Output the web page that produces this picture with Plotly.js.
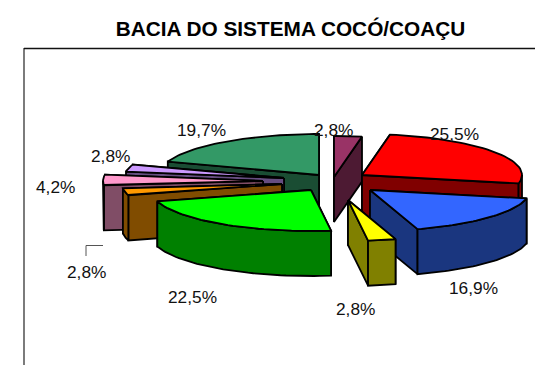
<!DOCTYPE html>
<html>
<head>
<meta charset="utf-8">
<script src="https://cdn.plot.ly/plotly-3.0.1.min.js"></script>
<style>html,body{margin:0;padding:0;background:#fff;overflow:hidden}#chart{width:535px;height:365px}</style>
</head>
<body>
<div id="chart"></div>
<script>
// Data, clockwise from 12 o'clock
var sliceNames = ['Bordô','Vermelho','Azul','Amarelo','Verde','Laranja','Rosa','Lilás','Verde-mar'];
var values = [2.8, 25.5, 16.9, 2.8, 22.5, 2.8, 4.2, 2.8, 19.7];
var topColors = ['#993366','#ff0000','#3366ff','#ffff00','#00ff00','#ff9900','#ff99cc','#cc99ff','#339966'];
var wallColors = ['#4d1a33','#800000','#1a367f','#808000','#008000','#804c00','#804d66','#664d80','#1a4d33'];
var drawOrder = [8,7,6,5,0,1,2,3,4];

// Pie geometry (pixels on the hidden axes)
var pie = {cx:322, cy:182, rx:160, ry:41, depth:45};
var explodeX = [12,40,48,26,-11,-40,-59,-38,-3];
var explodeY = [-5,-7,8,18,8,2,-1,-4,-7];
var labelX = [333,454,473,355,192,86,55,110,201];
var labelY = [130,134,288,309,297,272,187,156,130];

var total = values.reduce(function(a,b){return a+b;},0);
var traces = [];
function pt(tip, deg){
  var r = deg*Math.PI/180;
  return [tip[0]+pie.rx*Math.sin(r), tip[1]-pie.ry*Math.cos(r)];
}
function poly(points, fill, name){
  var xs = points.map(function(p){return p[0];});
  var ys = points.map(function(p){return p[1];});
  xs.push(xs[0]); ys.push(ys[0]);
  traces.push({type:'scatter', mode:'lines', x:xs, y:ys, fill:'toself', fillcolor:fill,
    line:{color:'#000', width:1.8, shape:'linear'}, hoverinfo:'text', text:name, showlegend:false});
}
var starts = [], acc = 0;
values.forEach(function(v){ starts.push(acc/total*360); acc += v; });

drawOrder.forEach(function(i){
  var a0 = starts[i], a1 = a0 + values[i]/total*360;
  var tip = [pie.cx+explodeX[i], pie.cy+explodeY[i]];
  var name = sliceNames[i];
  var d = pie.depth;
  function wall(a){
    var e = pt(tip,a);
    return {my:(tip[1]+e[1])/2, pts:[tip, e, [e[0],e[1]+d], [tip[0],tip[1]+d]]};
  }
  // radial walls, the farther one first
  [wall(a0),wall(a1)].sort(function(p,q){return p.my-q.my;}).forEach(function(w){
    poly(w.pts, wallColors[i], name);
  });
  // rim wall, only where it faces the viewer
  var lo = Math.max(a0,90), hi = Math.min(a1,270);
  if (hi > lo){
    var upper = [], lower = [];
    for (var k=0;k<=40;k++){
      var p = pt(tip, lo+(hi-lo)*k/40);
      upper.push(p); lower.unshift([p[0],p[1]+d]);
    }
    poly(upper.concat(lower), wallColors[i], name);
  }
  // top face
  var face = [tip];
  for (var j=0;j<=40;j++) face.push(pt(tip, a0+(a1-a0)*j/40));
  poly(face, topColors[i], name);
});

var annotations = values.map(function(v,i){
  return {x:labelX[i], y:labelY[i], xref:'x', yref:'y', showarrow:false,
    text:v.toFixed(1).replace('.',',')+'%', xanchor:'center', yanchor:'middle',
    font:{family:'Liberation Sans, Arial, sans-serif', size:17.3, color:'#111'}};
});

var layout = {
  width:535, height:365,
  margin:{l:0,r:0,t:0,b:0,pad:0},
  paper_bgcolor:'#fff', plot_bgcolor:'#fff',
  showlegend:false,
  title:{text:'<b>BACIA DO SISTEMA COCÓ/COAÇU</b>', x:290.5/535, xanchor:'center', y:1-29/365, yanchor:'middle',
    font:{family:'Liberation Sans, Arial, sans-serif', size:20.8, color:'#000'}},
  xaxis:{range:[0,535], visible:false, fixedrange:true},
  yaxis:{range:[365,0], visible:false, fixedrange:true},
  annotations:annotations,
  shapes:[
    {type:'line', xref:'x', yref:'y', x0:24, x1:24, y0:48, y1:365, line:{color:'#444', width:1.4}},
    {type:'line', xref:'x', yref:'y', x0:24, x1:535, y0:48.5, y1:48.5, line:{color:'#111', width:1.4}},
    {type:'path', xref:'x', yref:'y', path:'M86,256 L86,245.5 L103,245.5', line:{color:'#555', width:1}}
  ]
};
Plotly.newPlot('chart', traces, layout, {displayModeBar:false, staticPlot:true});
</script>
</body>
</html>
